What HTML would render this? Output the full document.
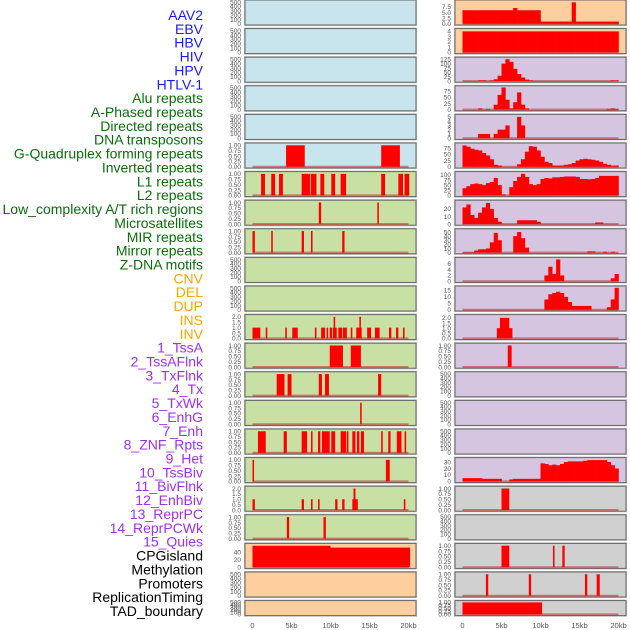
<!DOCTYPE html>
<html><head><meta charset="utf-8"><style>
html,body{margin:0;padding:0;background:#fff;}
svg{display:block;font-family:"Liberation Sans",sans-serif;}
</style></head><body>
<svg id="chart" width="630" height="630" viewBox="0 0 630 630" xmlns="http://www.w3.org/2000/svg"></svg>
<script>
// ---------- data ----------
const labelNames = ["AAV2","EBV","HBV","HIV","HPV","HTLV-1","Alu repeats","A-Phased repeats","Directed repeats","DNA transposons","G-Quadruplex forming repeats","Inverted repeats","L1 repeats","L2 repeats","Low_complexity A/T rich regions","Microsatellites","MIR repeats","Mirror repeats","Z-DNA motifs","CNV","DEL","DUP","INS","INV","1_TssA","2_TssAFlnk","3_TxFlnk","4_Tx","5_TxWk","6_EnhG","7_Enh","8_ZNF_Rpts","9_Het","10_TssBiv","11_BivFlnk","12_EnhBiv","13_ReprPC","14_ReprPCWk","15_Quies","CPGisland","Methylation","Promoters","ReplicationTiming","TAD_boundary"];
const labelGroups = [0,0,0,0,0,0,1,1,1,1,1,1,1,1,1,1,1,1,1,2,2,2,2,2,3,3,3,3,3,3,3,3,3,3,3,3,3,3,3,4,4,4,4,4];
const xTickLabels = ["0","5kb","10kb","15kb","20kb"];
const xTickValues = [0,5,10,15,20];

// left column: segments [startKb, endKb, height]
const leftSegs = [
 [],[],[],[],[],
 [[4.3,6.7,1],[16.5,18.9,1]],
 [[1.1,1.6,1],[2.4,2.9,1],[3.4,3.9,1],[6.3,7.4,1],[7.5,8.2,1],[8.7,9.2,1],[10.1,10.6,1],[11.3,12.0,1],[16.5,17.0,1],[18.7,19.3,1],[19.5,20.1,1]],
 [[8.5,8.8,1],[16.0,16.2,1]],
 [[0.0,0.3,1],[2.4,2.6,1],[6.3,6.6,1],[7.5,7.7,1],[11.5,11.8,1]],
 [],[],
 [[0.0,1.0,1],[1.7,1.9,1],[4.2,4.4,1],[5.1,5.8,1],[8.0,8.2,1],[8.8,9.3,1],[9.5,9.7,1],[9.9,10.2,1],[10.3,10.8,1],[10.4,10.6,2],[11.0,11.5,1],[11.6,12.1,1],[12.6,12.8,1],[13.3,14.0,1],[13.7,13.9,2],[14.7,15.2,1],[15.7,16.3,1],[17.5,17.8,1],[18.4,18.7,1],[19.3,19.5,1]],
 [[9.9,11.6,1],[12.6,13.9,1]],
 [[3.1,4.1,1],[4.5,5.0,1],[8.5,8.9,1],[9.3,9.8,1],[16.1,16.5,1]],
 [[13.8,14.0,1]],
 [[0.7,1.7,1],[4.0,4.4,1],[6.3,7.0,1],[7.5,7.7,1],[8.4,8.7,1],[8.9,9.9,1],[10.1,10.6,1],[11.3,12.0,1],[12.1,12.3,1],[12.8,13.2,1],[13.4,13.7,1],[13.9,14.3,1],[16.5,16.7,1],[17.4,17.7,1],[18.5,19.1,1],[19.5,19.7,1]],
 [[0.0,0.2,1],[17.1,17.6,1]],
 [[0.0,0.3,1],[6.3,6.6,1],[7.5,7.7,1],[8.4,8.6,1],[10.6,10.9,1],[11.5,11.8,1],[12.8,13.5,1],[12.95,13.2,2],[19.4,19.6,1]],
 [[4.4,4.7,1],[9.1,9.4,1]],
 [[0.0,10.0,57],[10.0,20.2,52]],
 [],[]
];
const leftTicks = [
 null,null,null,null,null,
 [0,0.25,0.5,0.75,1],[0,0.25,0.5,0.75,1],[0,0.25,0.5,0.75,1],[0,0.25,0.5,0.75,1],
 null,null,
 [0,0.5,1,1.5,2],[0,0.25,0.5,0.75,1],[0,0.25,0.5,0.75,1],[0,0.25,0.5,0.75,1],[0,0.25,0.5,0.75,1],[0,0.25,0.5,0.75,1],
 [0,0.5,1,1.5,2],[0,0.25,0.5,0.75,1],
 [0,20,40],null,null
];
const leftMax = [520,520,520,520,520,1.05,1.05,1.05,1.05,520,520,2.1,1.05,1.05,1.05,1.05,1.05,2.1,1.05,60,520,520];
const leftBg = [0,0,0,0,0,0,1,1,1,1,1,1,1,1,1,1,1,1,1,2,2,2];

// right column: histogram bins (0.5kb each, 40 bins) or segments
const r0 = [6,6,6,6,6,6,6,6,6,6,6,6,6,7,6,6,6,6,6,6,1,1,1,1,1,1,1,1,9.5,1,1,1,1,1,1,1,1,1,1,1];
const r1 = [4,4,4,4,4,4,4,4,4,4,4,4,4,4,4,4,4,4,4,4,4,4,4,4,4,4,4,4,4,4,4,4,4,4,4,4,4,4,4,4];
const r2 = [0,0,0,0,3,3,0,3,10,30,100,125,110,70,40,20,8,3,0,0,0,0,0,0,0,0,0,0,0,0,0,0,0,0,0,0,0,0,3,3];
const r3 = [0,0,0,0,5,0,3,0,20,60,90,40,5,30,70,20,5,0,0,0,0,0,0,0,0,0,0,0,0,0,0,0,0,0,0,0,0,3,5,3];
const r4 = [0,0,0,0,1,1,1,0,1,2,2,3,0,0,5,3,0,0,0,0,0,0,0,0,0,0,0,0,0,0,0,0,0,0,0,0,0,0,0,0];
const r5 = [85,80,72,68,65,55,45,30,8,5,0,0,0,0,10,30,60,82,80,65,40,20,15,5,5,5,8,10,15,25,30,32,30,28,25,20,12,8,5,5];
const r6 = [35,45,55,58,55,50,60,65,85,50,5,0,40,70,90,105,90,55,50,55,80,85,82,88,88,90,92,92,92,90,80,80,78,80,85,95,95,95,95,95];
const r7 = [22,26,12,8,15,22,28,20,8,3,0,0,0,0,5,5,5,5,5,3,0,0,0,0,0,0,0,0,0,0,0,0,0,0,2,2,0,0,0,0];
const r8 = [1,1,1,5,8,8,10,25,48,30,0,0,0,40,50,35,12,0,0,0,0,0,0,0,0,0,0,0,0,0,0,0,3,3,0,0,2,0,2,0];
const r9 = [0,0,0,0,0,0,0,0,0,0,0,0,0,0,0,0,0,0,0,0,0,2,5,2.5,7.5,2,0,0,0,0,0,0,0,0,0,0,0,0,1,2.5];
const r10 = [0,0,0,0,0,0,0,0,0,0,0,0,0,0,0,0,0,0,0,0,0,8,12,13,14,13,10,6,3,3,3,3,3,0,0,0,0,2,8,17];
const r16 = [5,5,5,5,5,4,4,4,4,4,0,0,3,4,4,4,4,4,4,4,28,27,25,26,25,27,30,31,31,31,31,32,33,33,33,33,33,30,25,20];
const rightBins = [r0,r1,r2,r3,r4,r5,r6,r7,r8,r9,r10,null,null,null,null,null,r16,null,null,null,null,null];
const rightSegs = [
 [],[],[],[],[],[],[],[],[],[],[],
 [[4.4,6.4,1],[4.8,6.0,2]],
 [[5.8,6.3,1]],
 [],[],[],[],
 [[5.0,6.0,1]],
 [],
 [[5.0,6.0,1],[11.6,11.8,1],[12.8,13.1,1]],
 [[3.0,3.3,1],[8.5,8.8,1],[15.7,16.0,1],[17.2,17.6,1]],
 [[0.0,10.2,1]]
];
const rightTicks = [
 [0,2.5,5,7.5],[0,1,2,3,4],[0,25,50,75,100,125],[0,25,50,75],[0,1,2,3,4,5],[0,25,50,75],[0,25,50,75,100],[0,10,20],[0,10,20,30,40,50],[0,2,4,6],[0,5,10,15],
 [0,0.5,1,1.5,2],[0,0.25,0.5,0.75,1],null,null,null,[0,10,20,30],[0,0.25,0.5,0.75,1],null,[0,0.25,0.5,0.75,1],[0,0.25,0.5,0.75,1],[0,0.25,0.5,0.75,1]
];
const rightMax = [10,4.3,130,92,5.3,90,110,30,55,7.8,17.5,2.2,1.05,520,520,520,35,1.05,520,1.05,1.05,1.05];
const rightBg = [2,2,3,3,3,3,3,3,3,3,3,3,3,3,3,3,3,4,4,4,4,4];

// ---------- styling ----------
const bgColors = ["#c8e4ec","#c8e0a4","#fecf9e","#d5c5e1","#d0d0d0"];
const labelColors = ["#1a1aff","#0a6e0a","#ffa500","#a030f0","#000000"];
const NS = "http://www.w3.org/2000/svg";
const svg = document.getElementById("chart");
function mk(tag, attrs, parent){const e=document.createElementNS(NS,tag);for(const k in attrs)e.setAttribute(k,attrs[k]);(parent||svg).appendChild(e);return e;}

// labels
labelNames.forEach((t,i)=>{
  const e = mk("text",{x:203,y:(20+i*13.86).toFixed(1),"text-anchor":"end","font-size":"14",fill:labelColors[labelGroups[i]]});
  e.textContent = t;
  
  
});

const cols = [{px:245,pw:171,x0:252.5,tx:241},{px:455,pw:171,x0:462.5,tx:451}];
const kbPx = 7.8;
function xScale(col,kb){return cols[col].x0 + kb*kbPx;}
function rowTop(i){return i*28.6;}
function rowH(i){return i===21?15:25;}
function fmt(v,ticks){const maxAbs=Math.max(...ticks); if(maxAbs<=1.01) return v.toFixed(2); if(ticks.some(t=>t%1!==0)) return v.toFixed(1); return String(v);}

function drawPanel(col,i,bg,ymax,ticks,segs,bins){
  const g = mk("g",{});
  
  
  const c = cols[col], top=rowTop(i), h=rowH(i);
  mk("rect",{x:c.px-0.5,y:top-0.5,width:c.pw+1,height:h+1,fill:"none",stroke:"#c8c8c8","stroke-width":1.2},g);
  mk("rect",{x:c.px,y:top,width:c.pw,height:h,fill:bgColors[bg],stroke:"#666","stroke-width":1},g);
  const yb = top+h-1.2, yt = top+1.2;
  const yScale = v => yb - (v/ymax)*(yb-yt);
  const tk = ticks || [0,100,200,300,400,500];
  tk.forEach(v=>{
    const t = mk("text",{x:c.tx,y:(yScale(v)+2.3).toFixed(1),"text-anchor":"end","font-size":"6.5",fill:"#555"},g);
    t.textContent = ticks? fmt(v,ticks) : String(v);
    
    
  });
  const hasData = (segs && segs.length) || bins;
  if(hasData){
    mk("line",{x1:xScale(col,0),x2:xScale(col,20),y1:yb,y2:yb,stroke:"rgba(190,40,40,0.55)","stroke-width":2},g);
  }
  if(bins){
    bins.forEach((v,k)=>{
      if(v<=0) return;
      const x1=xScale(col,k*0.5), x2=xScale(col,k*0.5+0.5);
      const r = mk("rect",{x:x1.toFixed(2),y:yScale(v).toFixed(2),width:(x2-x1+0.3).toFixed(2),height:(yb-yScale(v)).toFixed(2),fill:"#ff0000"},g);
      
      
    });
  }
  if(segs){
    segs.forEach(s=>{
      const x1=xScale(col,s[0]), x2=xScale(col,s[1]);
      const r = mk("rect",{x:x1.toFixed(2),y:yScale(s[2]).toFixed(2),width:Math.max(1.5,x2-x1).toFixed(2),height:(yb-yScale(s[2])).toFixed(2),fill:"#ff0000"},g);
      
      
    });
  }
}
for(let i=0;i<22;i++){
  drawPanel(0,i,leftBg[i],leftMax[i],leftTicks[i],leftSegs[i],null);
  drawPanel(1,i,rightBg[i],rightMax[i],rightTicks[i],rightSegs[i],rightBins[i]);
}
// x-axis ticks
[0,1].forEach(col=>{
  xTickValues.forEach((v,k)=>{
    const t = mk("text",{x:xScale(col,v).toFixed(1),y:628,"text-anchor":"middle","font-size":"7.5",fill:"#555"});
    t.textContent = xTickLabels[k];
    
    
  });
});
</script>
</body></html>
